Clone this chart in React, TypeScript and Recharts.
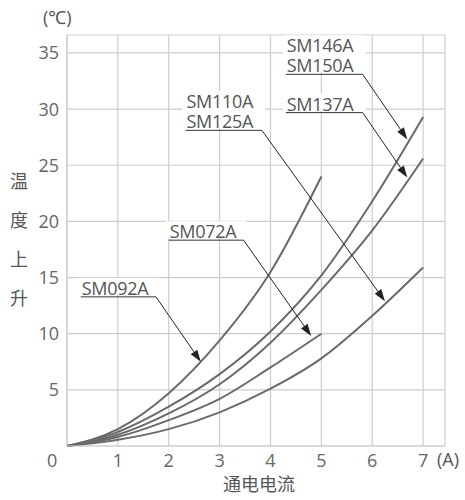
import { LineChart, Line, XAxis, YAxis, CartesianGrid, ReferenceLine, ReferenceDot } from "recharts";

const currents = [0, 1, 2, 3, 4, 5, 6, 7];
const sm092a = [0, 1.5, 4.7, 9.4, 15.5, 24.0];
const sm146a = [0, 1.25, 3.5, 6.4, 10.2, 15.2, 21.8, 29.3];
const sm137a = [0, 1.0, 2.9, 5.5, 9.2, 13.9, 19.2, 25.6];
const sm072a = [0, 0.8, 2.3, 4.2, 7.0, 10.0];
const sm110a = [0, 0.55, 1.5, 3.0, 5.1, 7.8, 11.6, 15.9];

const xTicks = [1, 2, 3, 4, 5, 6, 7];
const yTicks = [5, 10, 15, 20, 25, 30, 35];

// callouts: text lines, underline start/end x, underline y, arrow tip
const calloutText = [["SM146A", "SM150A"], ["SM137A"], ["SM110A", "SM125A"], ["SM072A"], ["SM092A"]];
const calloutX0 = [4.3, 4.3, 2.33, 2.0, 0.27];
const calloutX1 = [5.81, 5.81, 3.83, 3.47, 1.75];
const calloutY = [33.1, 29.69, 28.11, 18.33, 13.28];
const tipX = [6.69, 6.69, 6.25, 4.8, 2.63];
const tipY = [27.3, 23.9, 12.9, 9.8, 7.5];

const series = [sm092a, sm146a, sm137a, sm072a, sm110a];
const data = currents.map((x, i) => ({
  x,
  s0: sm092a[i],
  s1: sm146a[i],
  s2: sm137a[i],
  s3: sm072a[i],
  s4: sm110a[i],
}));

const FONT = "'Open Sans', 'Noto Sans', sans-serif";
const CJK = "'Noto Sans CJK SC', sans-serif";
const GRID = "#cdcdcd";
const CURVE = "#6a6a6a";

const Arrow = (p: any) => {
  const { x1, y1, x2, y2 } = p;
  const a = Math.atan2(y2 - y1, x2 - x1);
  const L = 12;
  const W = 4;
  const bx = x2 - L * Math.cos(a);
  const by = y2 - L * Math.sin(a);
  const nx = -Math.sin(a) * W;
  const ny = Math.cos(a) * W;
  return (
    <g>
      <line x1={x1} y1={y1} x2={bx} y2={by} stroke="#222" strokeWidth={1} />
      <polygon points={`${x2},${y2} ${bx + nx},${by + ny} ${bx - nx},${by - ny}`} fill="#222" />
    </g>
  );
};

const Underline = (p: any) => (
  <line x1={p.x1} y1={p.y1} x2={p.x2} y2={p.y2} stroke="#333" strokeWidth={1} />
);

const makeLabel = (lines: string[], w: number) => (p: any) => {
  const { cx, cy } = p;
  const n = lines.length;
  const first = cy - 2 - 20 * (n - 1);
  return (
    <g>
      <rect x={cx - 3} y={first - 17} width={w + 6} height={20 * (n - 1) + 17} fill="#fff" />
      <text x={cx + 1} y={first} fill="#555" fontSize={18} fontFamily={FONT} letterSpacing={-0.3}>
        {lines.map((t, i) => (
          <tspan key={t} x={cx + 1} dy={i === 0 ? 0 : 20}>
            {t}
          </tspan>
        ))}
      </text>
    </g>
  );
};

const abs = (left: number, top: number, extra: any = {}) => ({
  position: "absolute" as const,
  left,
  top,
  color: "#555",
  fontSize: 18,
  lineHeight: "20px",
  fontFamily: FONT,
  whiteSpace: "nowrap" as const,
  ...extra,
});

export default function App() {
  return (
    <div style={{ position: "absolute", left: 0, top: 0, width: 465, height: 500, background: "#fff" }}>
      <LineChart width={465} height={500} data={data} margin={{ top: 35, right: 20, bottom: 24, left: 0 }}>
        <CartesianGrid stroke={GRID} strokeWidth={1.2} />
        <XAxis
          type="number"
          dataKey="x"
          domain={[0, 7.43]}
          ticks={xTicks}
          height={30}
          tickLine={false}
          axisLine={{ stroke: GRID, strokeWidth: 1.2 }}
          tick={{ fill: "#666", fontSize: 18, fontFamily: FONT }}
        />
        <YAxis
          type="number"
          domain={[0, 36.6]}
          ticks={yTicks}
          width={67}
          tickLine={false}
          axisLine={{ stroke: GRID, strokeWidth: 1.2 }}
          tick={{ fill: "#666", fontSize: 18, fontFamily: FONT }}
        />
        {series.map((_, i) => (
          <Line
            key={i}
            dataKey={`s${i}`}
            type="monotone"
            stroke={CURVE}
            strokeWidth={2}
            dot={false}
            isAnimationActive={false}
          />
        ))}
        {calloutText.map((lines, i) => (
          <ReferenceDot
            key={`d${i}`}
            x={calloutX0[i]}
            y={calloutY[i]}
            r={0}
            shape={makeLabel(lines, (calloutX1[i] - calloutX0[i]) * 50.87)}
          />
        ))}
        {calloutText.map((_, i) => (
          <ReferenceLine
            key={`u${i}`}
            segment={[
              { x: calloutX0[i], y: calloutY[i] },
              { x: calloutX1[i], y: calloutY[i] },
            ]}
            shape={Underline}
          />
        ))}
        {calloutText.map((_, i) => (
          <ReferenceLine
            key={`a${i}`}
            segment={[
              { x: calloutX1[i], y: calloutY[i] },
              { x: tipX[i], y: tipY[i] },
            ]}
            shape={Arrow}
          />
        ))}
      </LineChart>
      <div style={abs(43, 7)}>(℃)</div>
      <div style={abs(47, 450, { color: "#666" })}>0</div>
      <div style={abs(437, 449)}>(A)</div>
      <div style={abs(223, 474, { fontFamily: CJK, lineHeight: "18px" })}>通电电流</div>
      {["温", "度", "上", "升"].map((c, i) => (
        <div key={c} style={abs(10, 170 + i * 39, { fontFamily: CJK })}>
          {c}
        </div>
      ))}
    </div>
  );
}
